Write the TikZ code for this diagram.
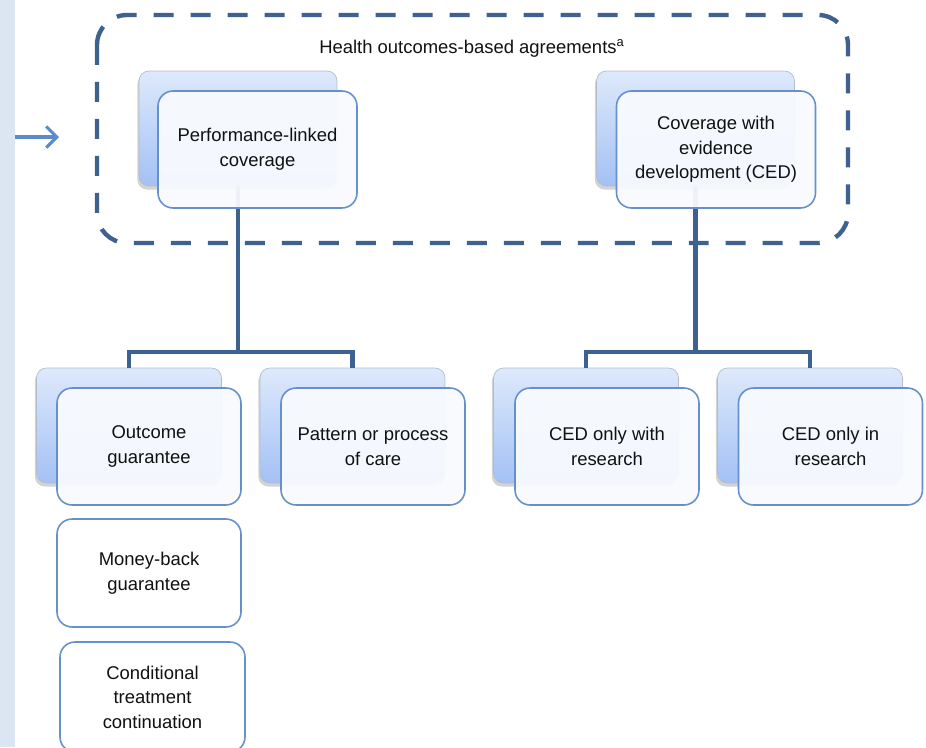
\documentclass[tikz,border=0pt]{standalone}
\usepackage{fontspec}
\setmainfont{Liberation Sans}
\usetikzlibrary{arrows.meta,shadows}
\definecolor{stripbg}{HTML}{DCE6F2}
\definecolor{framecol}{HTML}{3F6190}
\definecolor{linkcol}{HTML}{3D6191}
\definecolor{boxline}{HTML}{6690CB}
\definecolor{boxfill}{HTML}{F8FAFE}
\definecolor{backtop}{HTML}{DEE9FB}
\definecolor{backbot}{HTML}{A3C1F5}
\definecolor{backline}{HTML}{B3BCCC}
\definecolor{arrowcol}{HTML}{5B8BC8}
\definecolor{txt}{HTML}{111111}
\tikzset{>=latex}
\tikzstyle{frame}=[framecol,line width=2.5pt,dash pattern=on 0.4cm off 0.34cm,rounded corners=0.6cm]
\tikzstyle{link}=[linkcol,line width=2.8pt,line join=miter]
\tikzstyle{backbox}=[rectangle,rounded corners=0.2cm,draw=backline,line width=0.4pt,
    top color=backtop,bottom color=backbot,minimum height=2.3cm,
    drop shadow={shadow xshift=-1pt,shadow yshift=-2pt,opacity=0.35}]
\tikzstyle{frontbox}=[rectangle,rounded corners=0.3cm,draw=boxline,line width=0.9pt,
    fill=boxfill,fill opacity=0.95,text opacity=1,text=txt,align=center,
    minimum height=2.34cm,font=\fontsize{10.5}{14}\selectfont]
\tikzstyle{subbox}=[rectangle,rounded corners=0.3cm,draw=boxline,line width=0.9pt,
    fill=white,text=txt,align=center,minimum width=3.68cm,font=\fontsize{10.5}{14}\selectfont]

\begin{document}
\begin{tikzpicture}[x=0.02cm,y=-0.02cm]

  \useasboundingbox (0,0) rectangle (926,747);
  \fill[stripbg] (0,0) rectangle (15,747); % side band

  % arrow into the group
  \coordinate (arrowtail) at (15,137);
  \coordinate (arrowhead) at (59,137);
  \draw[arrowcol,line width=1.8pt,-{Straight Barb[length=6pt,width=12pt]}] (arrowtail) -- (arrowhead);

  % dashed group
  \draw[frame] (97,15) rectangle (848,243);
  \node[text=txt,font=\fontsize{10.5}{13}\selectfont] (title) at (472,48) {Health outcomes-based agreements\textsuperscript{a}};

  % back boxes
  \node[backbox,minimum width=3.96cm] (perfB) at (238,128.5) {};
  \node[backbox,minimum width=3.96cm] (cedB) at (695.5,128.5) {};
  \node[backbox,minimum width=3.7cm] (outB) at (129,425.5) {};
  \node[backbox,minimum width=3.7cm] (patB) at (352.5,425.5) {};
  \node[backbox,minimum width=3.7cm] (withB) at (586,425.5) {};
  \node[backbox,minimum width=3.7cm] (inB) at (810,425.5) {};

  % tree lines
  \coordinate (splitL) at (238,352);
  \coordinate (splitR) at (695.5,352);
  \draw[link] (perfB.south) -- (splitL);
  \draw[link] (outB.north) -- (outB.north |- splitL) -- (patB.north |- splitL) -- (patB.north);
  \draw[link] (cedB.south) -- (splitR);
  \draw[link] (withB.north) -- (withB.north |- splitR) -- (inB.north |- splitR) -- (inB.north);

  % front boxes
  \node[frontbox,minimum width=3.98cm] (perf) at ([shift={(19.5,21)}]perfB) {Performance-linked\\coverage};
  \node[frontbox,minimum width=3.98cm] (ced) at ([shift={(20.5,21)}]cedB) {Coverage with\\evidence\\development (CED)};
  \node[frontbox,minimum width=3.68cm] (out) at ([shift={(20,21)}]outB) {Outcome\\guarantee};
  \node[frontbox,minimum width=3.68cm] (pat) at ([shift={(20.5,21)}]patB) {Pattern or process\\of care};
  \node[frontbox,minimum width=3.68cm] (with) at ([shift={(21,21)}]withB) {CED only with\\research};
  \node[frontbox,minimum width=3.68cm] (in) at ([shift={(20.5,21)}]inB) {CED only in\\research};

  % outcome guarantee variants
  \node[subbox,minimum height=2.16cm] (money) at (149,573) {Money-back\\guarantee};
  \node[subbox,minimum height=2.2cm,minimum width=3.7cm] (cond) at (152.5,697) {Conditional\\treatment\\continuation};

\end{tikzpicture}
\end{document}
